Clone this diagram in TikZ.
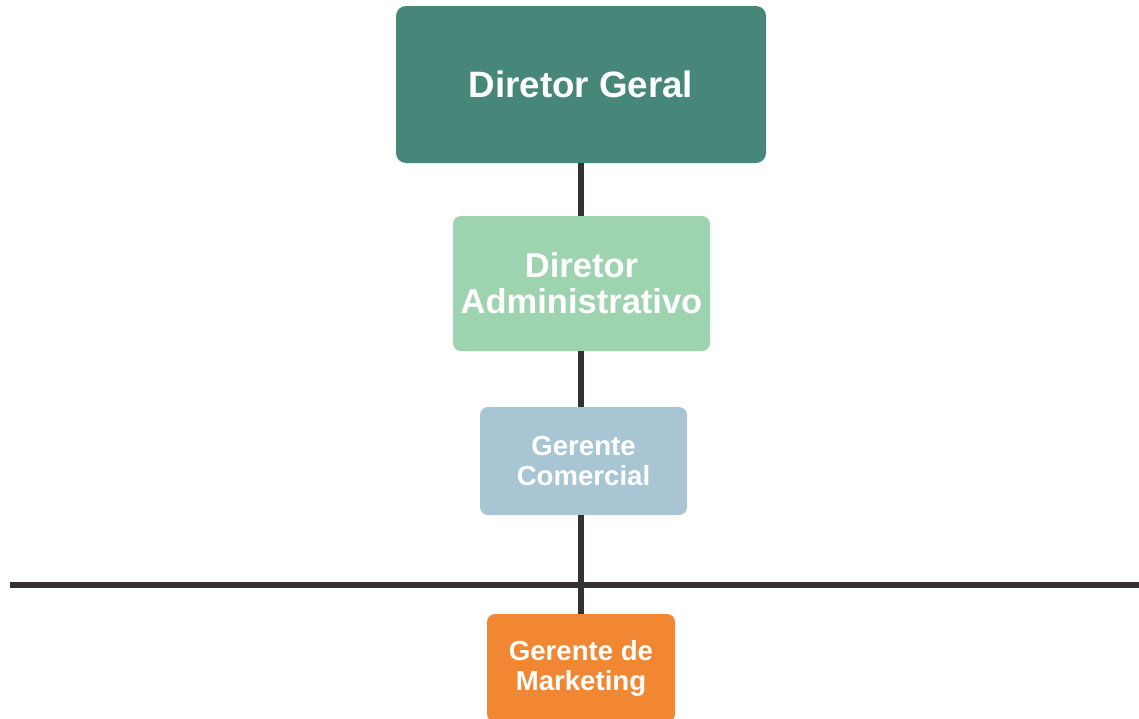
\documentclass[tikz,border=0pt]{standalone}
\usepackage{fontspec}
\setmainfont{Liberation Sans}
\usepackage{xcolor}
\usetikzlibrary{positioning}
\definecolor{orgDark}{HTML}{47877A}
\definecolor{orgMint}{HTML}{9DD3AE}
\definecolor{orgSky}{HTML}{A8C5D3}
\definecolor{orgOrange}{HTML}{F28733}
\definecolor{orgLine}{HTML}{333132}
\newcommand{\fs}[2]{\fontsize{#1}{#2}\selectfont}
\tikzset{
  role/.style={rounded corners=8pt,draw=none,text=white,align=center,
               inner sep=0pt,font=\bfseries},
  link/.style={draw=orgLine,line width=6pt},
}

\begin{document}
\begin{tikzpicture}[x=1pt,y=-1pt]
    \clip (0,0) rectangle (1139,718);
    \useasboundingbox (0,0) rectangle (1139,718);
    % --- roles
    \node[role,fill=orgDark,rounded corners=10pt,minimum width=370pt,minimum height=157pt,
          font=\bfseries\fs{36.7}{40}] at (581,84.5) (dg) {Diretor Geral};
    \node[role,fill=orgMint,minimum width=257pt,minimum height=135pt,
          font=\bfseries\fs{34.5}{36}] at (581.5,283.5) (da) {Diretor\\Administrativo};
    \node[role,fill=orgSky,minimum width=207pt,minimum height=108pt,
          font=\bfseries\fs{27.6}{30}] at (583.5,461) (gc) {Gerente\\Comercial};
    \node[role,fill=orgOrange,minimum width=188pt,minimum height=108pt,
          font=\bfseries\fs{27.6}{30}] at (581,668) (gm) {Gerente de\\Marketing};
    % --- horizontal rule
    \coordinate (hl) at (10,585);
    \coordinate (hr) at (1139,585);

    \draw[link] (dg.south) -- (dg.south |- da.north);
    \draw[link] (dg.south |- da.south) -- (dg.south |- gc.north);
    \draw[link] (dg.south |- gc.south) -- (gm.north);
    \draw[link] (hl) -- (hr);
  \end{tikzpicture}
\end{document}
